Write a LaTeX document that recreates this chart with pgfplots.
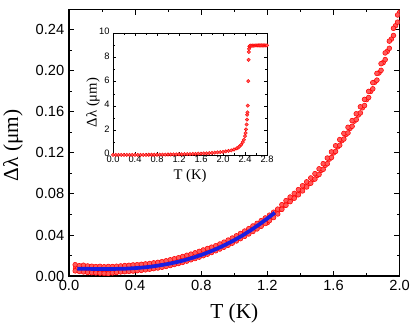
\documentclass[border=0pt]{standalone}
\usepackage{pgfplots}
\pgfplotsset{compat=1.18}
\usepackage{fontspec}
\setmainfont{Liberation Sans}
\newfontfamily\serif{Liberation Serif}
\definecolor{fitblue}{RGB}{25,30,225}
\pgfplotsset{dots/.style={only marks, mark=*, mark size=1.8pt, draw=red, fill=red!65, line width=0.4pt}}
\begin{document}
\begin{tikzpicture}
\path[use as bounding box] (-51.75pt,-39pt) rectangle (259.5pt,207pt);
\begin{axis}[
    scale only axis,
    width=248pt, height=200pt,
    at={(0,0)}, anchor=south west,
    clip marker paths=true,
    xmin=0, xmax=2.0, ymin=0, ymax=0.26,
    xtick={0,0.4,...,2.0}, ytick={0,0.04,...,0.24},
    minor x tick num=1, minor y tick num=1,
    tick align=inside,
    major tick length=4pt, minor tick length=2.2pt,
    axis line style={line width=0.8pt}, every tick/.style={line width=0.7pt, black},
    /pgf/number format/assume math mode=true,
    xticklabel style={/pgf/number format/.cd, fixed, fixed zerofill, precision=1},
    yticklabel style={/pgf/number format/.cd, fixed, fixed zerofill, precision=2},
    tick label style={font=\fontsize{11}{13}\selectfont},
    xlabel={\serif T (K)}, ylabel={\serif Δλ (μm)},
    label style={font=\fontsize{16}{18}\selectfont},
    xlabel style={at={(axis description cs:0.5,-0.14)}, anchor=center},
    ylabel style={at={(axis description cs:-0.17,0.49)}, anchor=center},
]
% measured data (red circles): central, upper and lower parts of the band
\addplot[dots] coordinates {
(0.04,0.0075) (0.05,0.0072) (0.075,0.0070) (0.1,0.0069) (0.125,0.0068) (0.15,0.0067)
(0.175,0.0066) (0.2,0.0066) (0.225,0.0066) (0.25,0.0067) (0.275,0.0068) (0.3,0.0070)
(0.325,0.0072) (0.35,0.0074) (0.375,0.0077) (0.4,0.0080) (0.425,0.0084) (0.45,0.0088)
(0.475,0.0093) (0.5,0.0098) (0.525,0.0105) (0.55,0.0112) (0.575,0.0120) (0.6,0.0128)
(0.625,0.0137) (0.65,0.0146) (0.675,0.0156) (0.7,0.0167) (0.725,0.0179) (0.75,0.0192)
(0.775,0.0205) (0.8,0.0219) (0.825,0.0234) (0.85,0.0250) (0.875,0.0266) (0.9,0.0283)
(0.925,0.0301) (0.95,0.0320) (0.975,0.0340) (1.0,0.0361) (1.025,0.0383) (1.05,0.0405)
(1.075,0.0428) (1.1,0.0452) (1.125,0.0477) (1.15,0.0503) (1.175,0.0530) (1.2,0.0558)
(1.225,0.0587) (1.25,0.0617) (1.275,0.0650) (1.3,0.0685) (1.325,0.073)
(1.35,0.076) (1.375,0.079) (1.4,0.083) (1.425,0.087) (1.45,0.090) (1.475,0.094)
(1.5,0.098) (1.525,0.103) (1.55,0.108) (1.575,0.114) (1.6,0.120) (1.625,0.126)
(1.65,0.132) (1.675,0.138) (1.7,0.144) (1.725,0.151) (1.75,0.157) (1.775,0.164)
(1.8,0.172) (1.825,0.180) (1.85,0.189) (1.875,0.198) (1.9,0.208) (1.925,0.219)
(1.95,0.231) (1.975,0.244) (2.0,0.257) (1.2,0.052) (1.19,0.053)
};
\addplot[dots] coordinates {
(0.0375,0.011) (0.0625,0.010) (0.0875,0.0105) (0.1125,0.0098) (0.1375,0.0095)
(0.1625,0.0092) (0.1875,0.0094) (0.2125,0.0090) (0.2375,0.0093) (0.2625,0.0092)
(0.2875,0.0095) (0.3125,0.0098) (0.3375,0.0102) (0.3625,0.0104) (0.3875,0.0108)
(0.4125,0.0110) (0.4375,0.0114) (0.4625,0.0118) (0.4875,0.0122) (0.5125,0.0128)
(0.5375,0.0133) (0.5625,0.0140) (0.5875,0.0148) (0.6125,0.0158) (0.6375,0.0168)
(0.6625,0.0178) (0.6875,0.0190) (0.7125,0.0202) (0.7375,0.0213) (0.7625,0.0226)
(0.7875,0.0240) (0.8125,0.0254) (0.8375,0.0268) (0.8625,0.0281) (0.8875,0.0295)
(0.9125,0.0312) (0.9375,0.0330) (0.9625,0.0350) (0.9875,0.0370) (1.0125,0.0392)
(1.0375,0.0415) (1.0625,0.0438) (1.0875,0.0462) (1.1125,0.0488) (1.1375,0.0513)
(1.1625,0.0540) (1.1875,0.0566) (1.2125,0.0593) (1.2375,0.0622) (1.2625,0.0652)
(1.2875,0.0695) (1.3125,0.0735) (1.3375,0.0770) (1.3625,0.0805) (1.3875,0.0842)
(1.4125,0.0880) (1.4375,0.0918) (1.4625,0.0956) (1.4875,0.0998) (1.5125,0.1045)
(1.5375,0.1095) (1.5625,0.1150) (1.5875,0.1210) (1.6125,0.1270) (1.6375,0.1330)
(1.6625,0.1390) (1.6875,0.1450) (1.7125,0.1515) (1.7375,0.1582) (1.7625,0.1650)
(1.7875,0.1722) (1.8125,0.1800) (1.8375,0.1885) (1.8625,0.1975) (1.8875,0.2070)
(1.9125,0.2175) (1.9375,0.2290) (1.9625,0.2415) (1.9875,0.2545)
};
\addplot[dots] coordinates {
(0.0375,0.005) (0.0625,0.0045) (0.0875,0.004) (0.1125,0.0035) (0.1375,0.0032)
(0.1625,0.003) (0.1875,0.0028) (0.2125,0.0025) (0.2375,0.0022) (0.2625,0.003)
(0.2875,0.0035) (0.3125,0.004) (0.3375,0.0042) (0.3625,0.0045) (0.3875,0.0048)
(0.4125,0.0052) (0.4375,0.0055) (0.4625,0.0060) (0.4875,0.0066) (0.5125,0.0072)
(0.5375,0.0078) (0.5625,0.0085) (0.5875,0.0093) (0.6125,0.0102) (0.6375,0.0112)
(0.6625,0.0122) (0.6875,0.0133) (0.7125,0.0145) (0.7375,0.0158) (0.7625,0.0170)
(0.7875,0.0184) (0.8125,0.0198) (0.8375,0.0213) (0.8625,0.0229) (0.8875,0.0246)
(0.9125,0.0263) (0.9375,0.0281) (0.9625,0.0300) (0.9875,0.0320) (1.0125,0.0342)
(1.0375,0.0364) (1.0625,0.0387) (1.0875,0.0410) (1.1125,0.0434) (1.1375,0.0459)
(1.1625,0.0485) (1.1875,0.0512) (1.2125,0.0540) (1.2375,0.0570) (1.2625,0.0605)
(1.2875,0.0650) (1.3125,0.0690) (1.3375,0.0725) (1.3625,0.0758) (1.3875,0.0792)
(1.4125,0.0830) (1.4375,0.0868) (1.4625,0.0905) (1.4875,0.0945) (1.5125,0.0990)
(1.5375,0.1040) (1.5625,0.1095) (1.5875,0.1155) (1.6125,0.1215) (1.6375,0.1275)
(1.6625,0.1335) (1.6875,0.1395) (1.7125,0.1460) (1.7375,0.1525) (1.7625,0.1590)
(1.7875,0.1662) (1.8125,0.1740) (1.8375,0.1825) (1.8625,0.1910) (1.8875,0.2005)
(1.9125,0.2110) (1.9375,0.2220) (1.9625,0.2345) (1.9875,0.2475)
};
% fit (blue line)
\addplot[fitblue, line width=2.8pt, no marks] coordinates {
(0.05,0.0072) (0.1,0.0070) (0.15,0.0069) (0.2,0.0068) (0.25,0.0068) (0.3,0.0070)
(0.35,0.0072) (0.4,0.0077) (0.45,0.0083) (0.5,0.0092) (0.55,0.0104) (0.6,0.0118)
(0.65,0.0135) (0.7,0.0155) (0.75,0.0179) (0.8,0.0205) (0.85,0.0236) (0.9,0.0270)
(0.95,0.0308) (1.0,0.0350) (1.05,0.0396) (1.1,0.0447) (1.15,0.0502) (1.2,0.0561)
(1.245,0.0618)
};
\end{axis}
% inset
\begin{axis}[
    scale only axis,
    width=115.5pt, height=91.5pt,
    at={(33pt,90.75pt)}, anchor=south west,
    axis background/.style={fill=white},
    xmin=0, xmax=2.8, ymin=0, ymax=10,
    xtick={0,0.4,...,2.8}, ytick={0,2,...,10},
    minor x tick num=1, minor y tick num=1,
    tick align=inside,
    major tick length=2.5pt, minor tick length=1.5pt,
    axis line style={line width=0.5pt}, every tick/.style={line width=0.5pt, black},
    /pgf/number format/assume math mode=true,
    tick label style={font=\fontsize{7}{8}\selectfont, inner sep=0.8pt},
    xticklabel style={/pgf/number format/.cd, fixed, fixed zerofill, precision=1},
    yticklabel style={xshift=-1.6pt, yshift=1.2pt, /pgf/number format/.cd, fixed, precision=0},
    xlabel={\serif T (K)}, ylabel={\serif Δλ (μm)},
    label style={font=\fontsize{11}{13}\selectfont},
    xlabel style={at={(axis description cs:0.5,-0.17)}, anchor=center},
    ylabel style={at={(axis description cs:-0.13,0.43)}, anchor=center},
]
\addplot[dots, mark size=1.3pt, line width=0.3pt] coordinates {
(0.0,0.01) (0.05,0.01) (0.1,0.01) (0.15,0.01) (0.2,0.01) (0.25,0.01) (0.3,0.01)
(0.35,0.01) (0.4,0.01) (0.45,0.01) (0.5,0.01) (0.55,0.01) (0.6,0.01) (0.65,0.02)
(0.7,0.02) (0.75,0.02) (0.8,0.02) (0.85,0.03) (0.9,0.03) (0.95,0.03) (1.0,0.04)
(1.05,0.04) (1.1,0.05) (1.15,0.05) (1.2,0.06) (1.25,0.06) (1.3,0.07) (1.35,0.08)
(1.4,0.08) (1.45,0.09) (1.5,0.10) (1.55,0.11) (1.6,0.12) (1.65,0.13) (1.7,0.14)
(1.75,0.16) (1.8,0.17) (1.85,0.19) (1.9,0.21) (1.95,0.23) (2.0,0.26) (2.05,0.29)
(2.1,0.33) (2.15,0.38) (2.2,0.45) (2.25,0.55) (2.28,0.62) (2.3,0.70) (2.33,0.85)
(2.36,1.05) (2.38,1.25) (2.4,1.55) (2.41,1.8) (2.42,2.1) (2.43,2.5) (2.435,2.9)
(2.44,3.3) (2.445,3.5) (2.45,4.05) (2.46,6.05) (2.465,7.8) (2.47,8.45) (2.475,8.7)
(2.48,8.9) (2.49,8.95) (2.5,8.96) (2.52,8.96) (2.54,8.97) (2.56,8.97) (2.58,8.97)
(2.6,8.98) (2.62,8.98) (2.64,8.98) (2.66,8.98) (2.68,8.98) (2.7,8.98) (2.72,8.98)
(2.74,8.98) (2.76,8.98) (2.78,8.98) (2.8,8.98)
};
\end{axis}
\end{tikzpicture}
\end{document}
